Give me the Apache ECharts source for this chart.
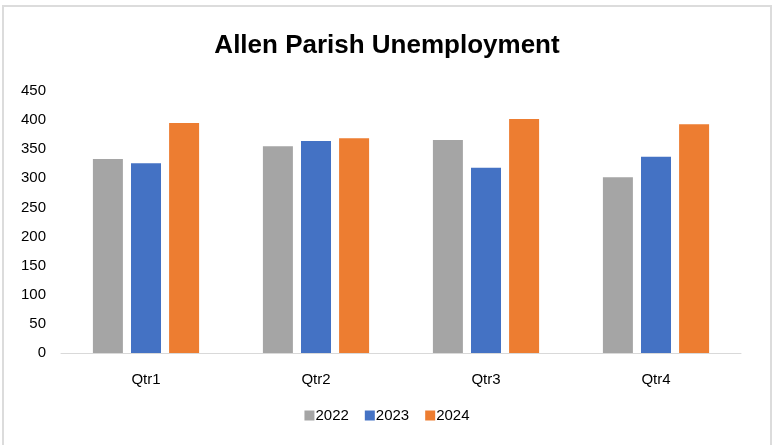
<!DOCTYPE html>
<html><head><meta charset="utf-8">
<script src="https://cdn.jsdelivr.net/npm/echarts@6/dist/echarts.min.js"></script>
<style>html,body{margin:0;padding:0;background:#fff;overflow:hidden;}#c{position:absolute;left:0;top:0;width:774px;height:445px;}#b{position:absolute;left:2px;top:5px;width:766px;height:450px;border:2px solid #dcdcdc;pointer-events:none;}</style>
</head><body><div id="c"></div><div id="b"></div>
<script>
const categories = ['Qtr1','Qtr2','Qtr3','Qtr4'];
const s2022 = [333, 355, 366, 302];
const s2023 = [326, 364, 318, 337];
const s2024 = [395, 369, 402, 393];
const yTicks = [0,50,100,150,200,250,300,350,400,450];
const font = '"Liberation Sans", Arial, sans-serif';
const chart = echarts.init(document.getElementById('c'));
chart.setOption({
  animation:false,
  title:{text:'Allen Parish Unemployment',left:'center',top:28,textStyle:{fontFamily:font,fontSize:26,fontWeight:'bold',color:'#000'}},
  legend:{top:403,left:'center',itemWidth:10,itemHeight:10,itemGap:16,icon:'rect',textStyle:{fontFamily:font,fontSize:15,color:'#000',padding:[0,0,0,-4]}},
  grid:{left:61,right:33,top:91,bottom:92},
  xAxis:{type:'category',data:categories,axisLine:{lineStyle:{color:'#d9d9d9',width:1}},axisTick:{show:false},axisLabel:{fontFamily:font,fontSize:15,color:'#000',margin:19}},
  yAxis:{type:'value',min:yTicks[0],max:yTicks[yTicks.length-1],interval:50,splitLine:{show:false},axisLine:{show:false},axisTick:{show:false},axisLabel:{fontFamily:font,fontSize:15,color:'#000',margin:15}},
  series:[
    {name:'2022',type:'bar',data:s2022,barWidth:30,barGap:'27%',itemStyle:{color:'#a5a5a5'}},
    {name:'2023',type:'bar',data:s2023,barWidth:30,barGap:'27%',itemStyle:{color:'#4472c4'}},
    {name:'2024',type:'bar',data:s2024,barWidth:30,barGap:'27%',itemStyle:{color:'#ed7d31'}}
  ]
});
</script></body></html>
